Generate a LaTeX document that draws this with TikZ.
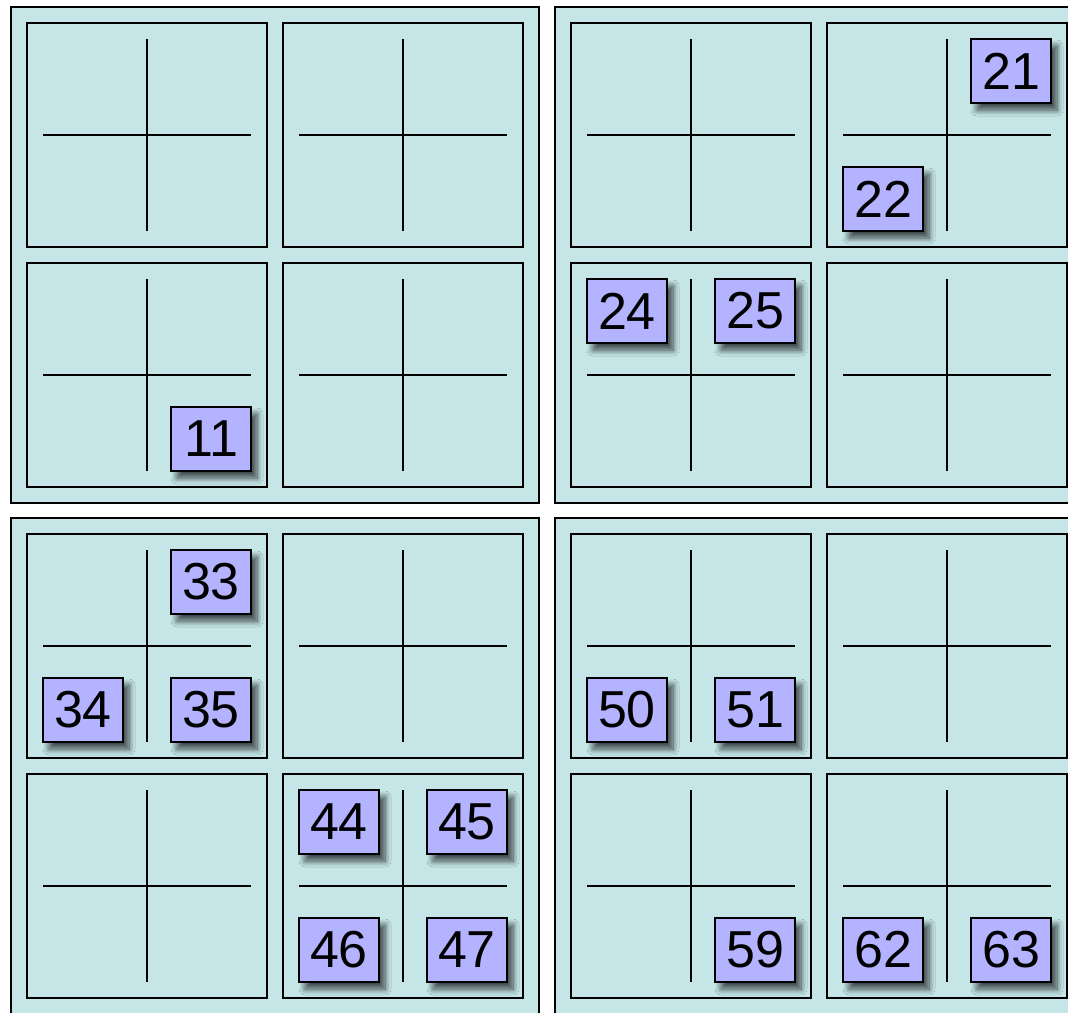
\documentclass[tikz,border=0pt]{standalone}
\usepackage{fontspec}
\setmainfont{Liberation Sans}
\usetikzlibrary{shadows.blur}

\definecolor{boardfill}{HTML}{C5E5E7}
\definecolor{tagfill}{HTML}{B3B3FF}

\begin{document}
\begin{tikzpicture}[x=1pt, y=-1pt,
  quad/.style={rectangle, draw, line width=1.8pt, fill=boardfill, inner sep=0pt, outer sep=0pt,
               minimum width=528pt, minimum height=496pt, anchor=north west},
  cell/.style={rectangle, draw, line width=1.8pt, inner sep=0pt, outer sep=0pt,
               minimum width=240pt, minimum height=224pt, anchor=north west},
  cross/.style={line width=1.6pt},
  tag/.style={rectangle, draw, line width=1.5pt, fill=tagfill, inner sep=0pt,
              minimum width=80pt, minimum height=64pt, font=\fontsize{52}{52}\selectfont,
              blur shadow={shadow xshift=6pt, shadow yshift=-7pt, shadow blur radius=6pt,
                           shadow blur steps=10, shadow opacity=70}}
]
  \clip (0,0) rectangle (1068,1012);

  % four boards, each with 2x2 cells
  \foreach \q in {0,1,2,3} {
    \pgfmathtruncatemacro\qx{11+544*mod(\q,2)}
    \pgfmathtruncatemacro\qy{7+511*int(\q/2)}
    \node[quad] (q\q) at (\qx,\qy) {};
    \foreach \c in {0,1,2,3} {
      \pgfmathtruncatemacro\cx{16+256*mod(\c,2)}
      \pgfmathtruncatemacro\cy{16+240*int(\c/2)}
      \node[cell] (q\q c\c) at ([shift={(\cx,\cy)}]q\q.north west) {};
      \draw[cross] ([yshift=-16pt]q\q c\c.north) -- ([yshift=16pt]q\q c\c.south);
      \draw[cross] ([xshift=16pt]q\q c\c.west) -- ([xshift=-16pt]q\q c\c.east);
    }
  }

  % numbered tags
  \foreach \n in {11,21,22,24,25,33,34,35,44,45,46,47,50,51,59,62,63} {
    \pgfmathtruncatemacro\q{int(\n/16)}
    \pgfmathtruncatemacro\c{int(mod(\n,16)/4)}
    \pgfmathtruncatemacro\dx{(2*mod(\n,2)-1)*64}
    \pgfmathtruncatemacro\dy{(2*int(mod(\n,4)/2)-1)*64}
    \node[tag] (t\n) at ([shift={(\dx,\dy)}]q\q c\c.center) {\n};
  }
\end{tikzpicture}
\end{document}
